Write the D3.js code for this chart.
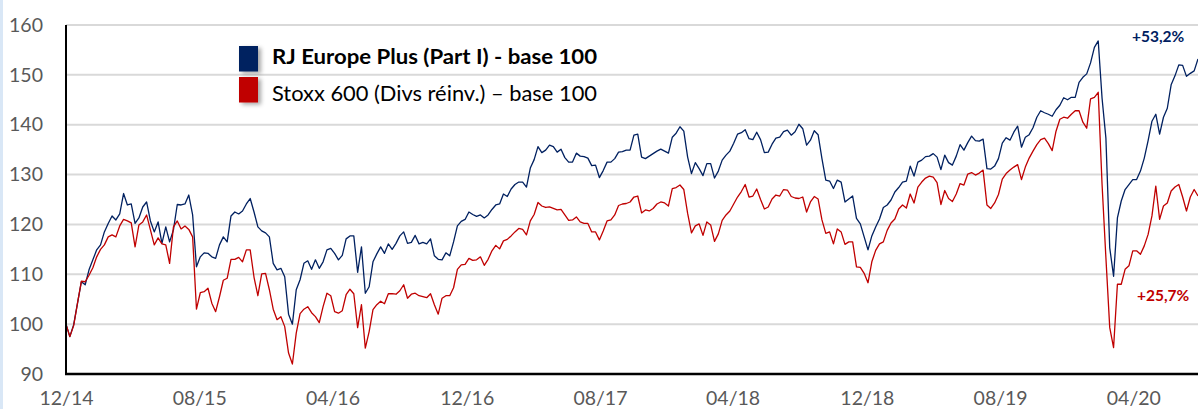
<!DOCTYPE html>
<html><head><meta charset="utf-8">
<script src="https://cdn.jsdelivr.net/npm/d3@7"></script>
<style>
html,body{margin:0;padding:0;background:#fff;}
svg{display:block;}
</style></head><body>
<svg id="chart" width="1198" height="409"></svg>
<script>
// ---- data (weekly observations, base 100) ----
const startDate = "2014-12-31";
const seriesNames = ["RJ Europe Plus (Part I) - base 100", "Stoxx 600 (Divs réinv.) – base 100"];
const rjEurope = [
100,97.5,99.9,104.2,108.5,107.9,110.9,112.9,114.9,115.9,118.5,120.2,121.7,120.9,122.1,126.2,123.9,124.1,120.2,121.3,
123.5,124.5,120.7,118.5,120.5,116.2,119.5,116.5,118.9,124.0,123.9,124.1,125.9,121.9,111.5,113.5,114.3,114.2,113.5,113.2,
115.9,117.5,116.5,121.7,122.5,122.1,122.7,124.1,125.2,122.5,119.5,118.7,118.3,117.5,112.2,110.9,111.2,109.5,102.0,100.0,
106.9,108.9,112.2,112.7,111.0,112.9,111.2,112.5,114.9,115.2,114.2,112.9,113.8,117.1,117.7,117.7,110.4,115.5,106.2,107.5,
112.5,114.1,115.5,114.2,116.1,115.0,116.2,117.7,118.5,116.2,116.4,117.8,116.1,116.4,116.1,117.1,113.7,113.0,112.9,114.3,
113.7,116.5,119.7,120.6,121.0,122.5,122.0,121.6,121.9,121.3,121.9,123.0,123.9,124.1,126.1,125.6,127.1,128.0,128.5,128.5,
127.5,131.3,133.0,135.6,134.4,134.9,135.9,135.6,134.5,135.1,133.4,132.5,132.5,134.3,133.7,133.6,133.3,131.8,131.9,129.4,
130.8,132.5,132.5,133.2,134.5,134.6,134.9,134.9,137.9,138.1,133.5,133.2,133.7,134.2,134.7,135.1,134.7,134.3,137.5,138.3,
139.6,138.7,133.5,130.2,132.4,131.2,129.8,132.2,132.2,129.3,130.7,132.9,133.9,134.7,136.3,138.1,138.4,139.0,137.2,137.0,
138.5,137.0,134.4,134.5,136.1,137.3,137.5,138.6,138.9,137.9,138.6,140.1,139.2,135.9,136.9,138.8,138.0,133.2,128.9,128.7,
127.2,128.9,128.5,124.5,125.1,125.7,121.2,120.1,117.5,114.9,117.7,119.5,121.1,123.4,123.9,124.9,126.5,127.4,128.5,128.7,
131.7,129.7,132.5,132.9,133.6,133.7,134.2,133.5,131.0,133.9,132.4,131.9,133.7,136.0,134.9,136.4,137.7,136.8,136.7,137.1,
131.2,131.1,131.7,133.2,136.3,137.4,136.9,138.5,139.7,135.5,137.5,138.0,139.4,141.5,142.8,142.4,142.1,141.7,143.0,143.9,
145.4,145.0,145.5,145.5,148.5,149.5,150.2,152.4,155.5,156.8,145.3,137.3,115.3,109.6,121.3,124.7,127.0,128.0,129.0,129.0,
130.7,133.3,136.8,140.7,142.1,138.1,141.5,143.3,148.0,149.8,152.0,151.9,149.7,150.3,150.8,153.2
];
const stoxx600 = [
100,97.5,99.7,104.2,108.6,108.5,109.8,111.3,113.5,115.0,115.9,117.5,117.9,117.5,119.7,121.0,120.7,120.3,115.5,119.9,
120.5,121.9,118.9,115.9,117.3,116.1,115.9,112.2,119.5,120.7,119.1,119.7,119.0,117.5,103.0,106.3,106.5,107.2,104.2,102.5,
105.5,108.8,109.2,113.0,113.0,113.4,112.5,114.9,114.9,109.4,105.7,110.1,110.2,106.9,103.0,100.9,101.5,99.5,94.2,92.0,
98.2,102.1,103.0,103.5,102.3,101.5,100.3,103.5,106.2,105.7,102.5,102.2,102.7,105.9,107.0,106.1,99.3,103.9,95.2,98.5,
102.9,103.9,104.6,104.1,106.1,106.1,106.0,106.7,107.9,105.2,106.0,106.2,105.7,105.5,105.3,106.1,103.9,102.0,105.2,105.7,
105.7,107.3,111.0,111.9,112.0,113.2,112.8,112.9,113.5,111.8,113.0,114.7,115.8,115.1,116.7,117.0,117.7,118.5,119.2,119.0,
117.9,120.7,122.0,124.4,123.7,123.4,123.5,123.2,122.9,123.0,121.9,120.8,120.9,121.5,120.5,120.2,120.2,118.5,118.5,116.9,
118.7,120.7,120.9,121.9,123.8,124.1,124.2,124.5,125.5,125.7,122.3,122.9,122.7,123.2,124.1,124.5,124.3,123.7,127.2,127.4,
127.9,127.0,122.2,118.3,119.7,120.1,117.8,120.5,119.9,116.6,118.1,120.8,121.9,122.7,124.1,125.5,126.6,128.0,125.5,125.7,
127.1,125.0,123.1,123.5,125.1,125.9,125.7,127.0,126.9,125.6,125.3,125.2,125.5,122.5,124.5,125.6,125.1,120.9,118.2,118.5,
116.1,119.1,118.5,116.0,116.5,116.5,111.5,111.4,110.2,108.3,112.5,114.8,116.1,116.5,118.8,120.3,121.1,123.1,123.9,123.3,
126.1,124.3,127.5,128.5,129.3,129.7,129.5,128.4,124.0,126.8,125.2,124.6,126.1,128.2,127.9,130.1,130.4,129.9,130.3,130.9,
123.9,123.2,124.3,126.0,129.1,130.2,130.9,131.5,132.0,129.0,131.5,133.3,134.7,136.0,137.0,137.3,136.2,134.8,138.7,141.1,
141.5,141.3,142.1,142.8,142.8,140.5,139.3,145.2,145.5,146.5,128.0,113.3,99.3,95.3,108.0,108.0,111.0,111.7,114.7,114.7,
114.0,115.7,118.0,121.7,127.7,121.0,123.7,124.3,126.7,127.5,128.0,125.5,122.7,125.5,127.0,125.7
];
const yTicks = [90, 100, 110, 120, 130, 140, 150, 160];
const xTickDates = ["2014-12-31","2015-08-31","2016-04-30","2016-12-31","2017-08-31","2018-04-30","2018-12-31","2019-08-31","2020-04-30"];
const xTickLabels = ["12/14","08/15","04/16","12/16","08/17","04/18","12/18","08/19","04/20"];
const perfLabels = ["+53,2%", "+25,7%"];
const colors = ["#002060", "#C00000"];

// ---- layout ----
const W = 1198, H = 409;
const margin = {left: 66, right: 0, top: 25, bottom: 35};
const parse = d3.utcParse("%Y-%m-%d");
const t0 = parse(startDate);
const dates = rjEurope.map((_, i) => d3.utcDay.offset(t0, 7 * i));

const svg = d3.select("#chart");
const font = "Lato, 'Open Sans', sans-serif";

const x = d3.scaleUtc().domain([dates[0], dates[dates.length - 1]]).range([margin.left, W - margin.right]);
const y = d3.scaleLinear().domain([90, 160]).range([H - margin.bottom, margin.top]);

svg.append("rect").attr("width", W).attr("height", H).attr("fill", "#fff");
svg.append("rect").attr("x", 0).attr("y", 0).attr("width", 3).attr("height", H).attr("fill", "#d9e7f6");

// gridlines
svg.append("g").selectAll("line").data(yTicks.filter(d => d > 90)).join("line")
  .attr("x1", margin.left).attr("x2", W)
  .attr("y1", d => y(d)).attr("y2", d => y(d))
  .attr("stroke", "#d9d9d9").attr("stroke-width", 2);

// y axis
const yAxis = svg.append("g").attr("transform", `translate(${margin.left},0)`)
  .call(d3.axisLeft(y).tickValues(yTicks).tickSize(0).tickPadding(23).tickFormat(d3.format("d")));
yAxis.select(".domain").remove();
yAxis.selectAll("text").attr("font-family", font).attr("font-size", 19.5).attr("fill", "#595959");

// x axis
const xAxis = svg.append("g").attr("transform", `translate(0,${y(90)})`)
  .call(d3.axisBottom(x).tickValues(xTickDates.map(parse)).tickSize(0).tickPadding(17.5)
    .tickFormat((d, i) => xTickLabels[i]));
xAxis.select(".domain").remove();
xAxis.selectAll("text").attr("font-family", font).attr("font-size", 19.5).attr("fill", "#595959");

// lines
const line = d3.line().x((d, i) => x(dates[i])).y(d => y(d));
[rjEurope, stoxx600].forEach((s, k) => {
  svg.append("path").datum(s).attr("d", line)
    .attr("fill", "none").attr("stroke", colors[k]).attr("stroke-width", 1.3)
    .attr("stroke-linejoin", "round");
});

// axis lines
svg.append("line").attr("x1", margin.left).attr("x2", margin.left).attr("y1", y(160)).attr("y2", y(90) + 1)
  .attr("stroke", "#000").attr("stroke-width", 2);
svg.append("line").attr("x1", margin.left - 1).attr("x2", W).attr("y1", y(90)).attr("y2", y(90))
  .attr("stroke", "#000").attr("stroke-width", 2.5);

// legend
const defs = svg.append("defs");
const f = defs.append("filter").attr("id", "sh").attr("x", "-50%").attr("y", "-50%").attr("width", "200%").attr("height", "200%");
f.append("feDropShadow").attr("dx", 3).attr("dy", 2).attr("stdDeviation", 2).attr("flood-color", "#000").attr("flood-opacity", 0.35);
const legY = [46, 77];
const legBase = [63.5, 101];
seriesNames.forEach((name, k) => {
  svg.append("rect").attr("x", 239).attr("y", legY[k]).attr("width", 19).attr("height", 25.5)
    .attr("fill", colors[k]).attr("filter", "url(#sh)");
  svg.append("text").attr("x", 272).attr("y", legBase[k])
    .attr("font-family", font).attr("font-size", 20.5).attr("font-weight", k === 0 ? 700 : 400)
    .attr("textLength", 325).attr("lengthAdjust", "spacingAndGlyphs")
    .attr("fill", "#000").text(name);
});

// end labels
svg.append("text").attr("x", 1132).attr("y", 41.5).attr("font-family", font).attr("font-size", 15.5)
  .attr("font-weight", 700).attr("fill", colors[0]).text(perfLabels[0]);
svg.append("text").attr("x", 1137).attr("y", 300.5).attr("font-family", font).attr("font-size", 15.5)
  .attr("font-weight", 700).attr("fill", colors[1]).text(perfLabels[1]);
</script>
</body></html>
